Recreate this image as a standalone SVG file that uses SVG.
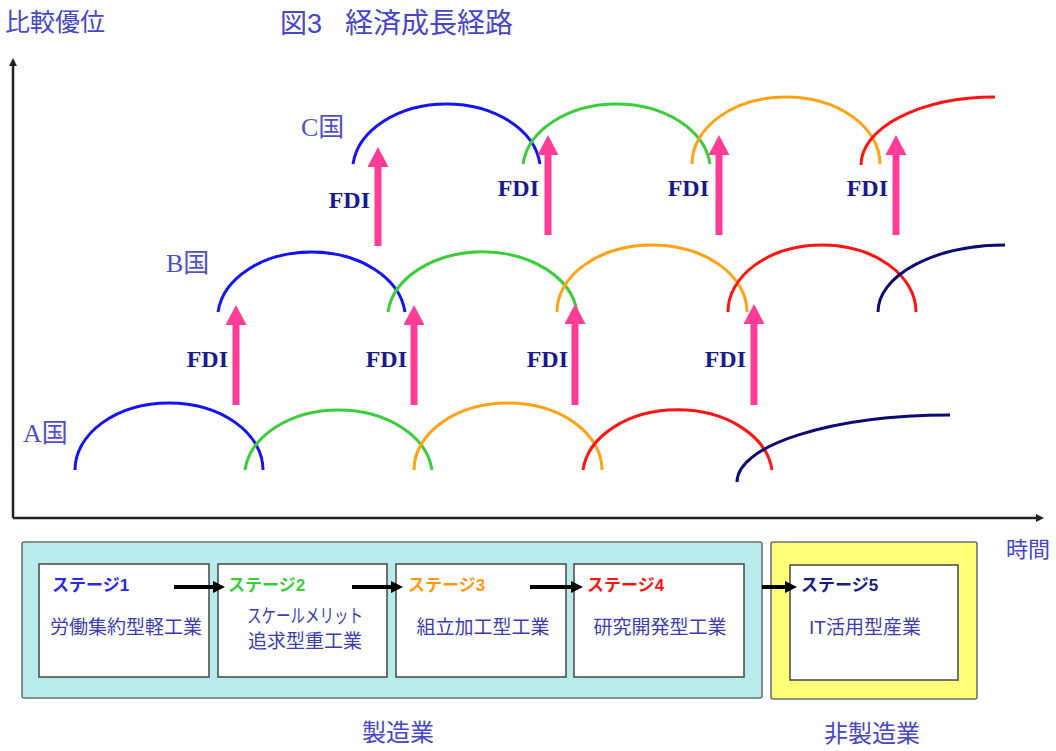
<svg xmlns="http://www.w3.org/2000/svg" width="1056" height="751" viewBox="0 0 1056 751">
<style>
.lbl{font-family:"Liberation Sans","Noto Sans CJK JP",sans-serif;fill:#4646c8}
.ctry{font-family:"Liberation Serif","Noto Sans CJK JP",serif;font-size:26px;fill:#5050c8}
.fdi{font-family:"Liberation Serif",serif;font-weight:bold;font-size:24px;fill:#1a1a8c;text-anchor:end}
.arc{fill:none;stroke-width:3;stroke-linecap:butt}
.c1{stroke:#1414f0}.c2{stroke:#3ccc3c}.c3{stroke:#ffa214}.c4{stroke:#ff1414}.c5{stroke:#0c0c70}
.pk{stroke:#ff3c96;stroke-width:7}
.box{fill:#fff;stroke:#505050;stroke-width:1.6}
.stg{font-family:"Liberation Sans","Noto Sans CJK JP",sans-serif;font-weight:bold;font-size:17px}
.desc{font-family:"Liberation Sans","Noto Sans CJK JP",sans-serif;font-size:19px;fill:#3c3cb4;text-anchor:middle}
.ax{stroke:#222;stroke-width:2.5;fill:none}
.blk{stroke:#000;stroke-width:4}
</style>
<defs>
<marker id="pkh" viewBox="0 0 20 21" refX="0" refY="10.5" markerWidth="20" markerHeight="21" markerUnits="userSpaceOnUse" orient="auto"><path d="M0,0 L20,10.5 L0,21 z" fill="#ff3c96"/></marker>
<marker id="bkh" viewBox="0 0 12 12" refX="0" refY="6" markerWidth="12" markerHeight="12" markerUnits="userSpaceOnUse" orient="auto"><path d="M0,0 L12,6 L0,12 z" fill="#000"/></marker>
<marker id="axh" viewBox="0 0 8 8" refX="0" refY="4" markerWidth="8" markerHeight="8" markerUnits="userSpaceOnUse" orient="auto"><path d="M0,0 L8,4 L0,8 z" fill="#222"/></marker>
</defs>
<rect width="1056" height="751" fill="#fff"/>

<g id="axes">
<line class="ax" x1="13" y1="518" x2="13" y2="66" marker-end="url(#axh)"/>
<line class="ax" x1="13" y1="518" x2="1036" y2="518" marker-end="url(#axh)"/>
<text class="lbl" x="5" y="31" font-size="25">比較優位</text>
<text class="lbl" x="1006" y="557" font-size="22">時間</text>
</g>

<g id="title">
<text class="lbl" x="280" y="33" font-size="27">図3</text>
<text class="lbl" x="345" y="33" font-size="28">経済成長経路</text>
</g>

<g id="country-labels">
<text class="ctry" x="23" y="442">A国</text>
<text class="ctry" x="166" y="272">B国</text>
<text class="ctry" x="301" y="136">C国</text>
</g>

<g id="paths">
<path class="arc c1" d="M75,470 A94,67 0 0 1 263,470"/>
<path class="arc c2" d="M245,470 A94,67 0 0 1 432,470"/>
<path class="arc c3" d="M414,470 A94,67 0 0 1 602,470"/>
<path class="arc c4" d="M583,470 A95,67 0 0 1 772,470"/>
<path class="arc c5" d="M737,482 A213,67 0 0 1 950,415"/>
<path class="arc c1" d="M218,312 A94,67 0 0 1 405,312"/>
<path class="arc c2" d="M388,312 A95,67 0 0 1 577,312"/>
<path class="arc c3" d="M557,312 A95,67 0 0 1 747,312"/>
<path class="arc c4" d="M728,312 A94,67 0 0 1 916,312"/>
<path class="arc c5" d="M878,312 A127,67 0 0 1 1005,245"/>
<path class="arc c1" d="M353,164 A94,67 0 0 1 540,164"/>
<path class="arc c2" d="M523,164 A94,67 0 0 1 710,164"/>
<path class="arc c3" d="M692,164 A94,67 0 0 1 880,164"/>
<path class="arc c4" d="M861,165 A134,68 0 0 1 995,97"/>
</g>

<g id="connectors">
<line class="pk" x1="378" y1="246" x2="378" y2="167" marker-end="url(#pkh)"/>
<line class="pk" x1="548" y1="235" x2="548" y2="155" marker-end="url(#pkh)"/>
<line class="pk" x1="719" y1="235" x2="719" y2="155" marker-end="url(#pkh)"/>
<line class="pk" x1="896" y1="235" x2="896" y2="155" marker-end="url(#pkh)"/>
<line class="pk" x1="236" y1="405" x2="236" y2="325" marker-end="url(#pkh)"/>
<line class="pk" x1="414" y1="405" x2="414" y2="325" marker-end="url(#pkh)"/>
<line class="pk" x1="575" y1="405" x2="575" y2="324" marker-end="url(#pkh)"/>
<line class="pk" x1="754" y1="405" x2="754" y2="324" marker-end="url(#pkh)"/>
<text class="fdi" x="370" y="208">FDI</text>
<text class="fdi" x="539" y="196">FDI</text>
<text class="fdi" x="709" y="196">FDI</text>
<text class="fdi" x="888" y="196">FDI</text>
<text class="fdi" x="228" y="367">FDI</text>
<text class="fdi" x="407" y="367">FDI</text>
<text class="fdi" x="568" y="367">FDI</text>
<text class="fdi" x="746" y="367">FDI</text>
</g>

<g id="manufacturing">
<rect x="22" y="542" width="740" height="156" fill="#b8ecec" stroke="#707070" stroke-width="1.6" rx="2"/>
<text class="lbl" x="362" y="741" font-size="24">製造業</text>
</g>
<g id="non-manufacturing">
<rect x="771" y="542" width="206" height="157" fill="#ffff78" stroke="#707070" stroke-width="1.6" rx="2"/>
<text class="lbl" x="824" y="742" font-size="24">非製造業</text>
</g>

<g id="stage1">
<rect class="box" x="39" y="564" width="170" height="113"/>
<text class="stg" x="52" y="591" fill="#2828f0">ステージ1</text>
<text class="desc" x="126" y="634" textLength="152" lengthAdjust="spacingAndGlyphs">労働集約型軽工業</text>
</g>
<g id="stage2">
<rect class="box" x="218" y="564" width="169" height="113"/>
<text class="stg" x="228" y="591" fill="#3ccc3c">ステージ2</text>
<text class="desc" x="305" y="623" textLength="116" lengthAdjust="spacingAndGlyphs">スケールメリット</text>
<text class="desc" x="305" y="648">追求型重工業</text>
</g>
<g id="stage3">
<rect class="box" x="396" y="564" width="170" height="113"/>
<text class="stg" x="408" y="591" fill="#ff9a10">ステージ3</text>
<text class="desc" x="483" y="634">組立加工型工業</text>
</g>
<g id="stage4">
<rect class="box" x="574" y="564" width="170" height="113"/>
<text class="stg" x="587" y="591" fill="#ff1414">ステージ4</text>
<text class="desc" x="660" y="634">研究開発型工業</text>
</g>
<g id="stage5">
<rect class="box" x="790" y="565" width="168" height="115"/>
<text class="stg" x="801" y="591" fill="#1c1c80">ステージ5</text>
<text class="desc" x="865" y="634">IT活用型産業</text>
</g>

<g id="stage-connectors">
<line class="blk" x1="174" y1="587" x2="213" y2="587" marker-end="url(#bkh)"/>
<line class="blk" x1="352" y1="587" x2="391" y2="587" marker-end="url(#bkh)"/>
<line class="blk" x1="530" y1="587" x2="571" y2="587" marker-end="url(#bkh)"/>
<line class="blk" x1="762" y1="587" x2="785" y2="587" marker-end="url(#bkh)"/>
</g>
</svg>
